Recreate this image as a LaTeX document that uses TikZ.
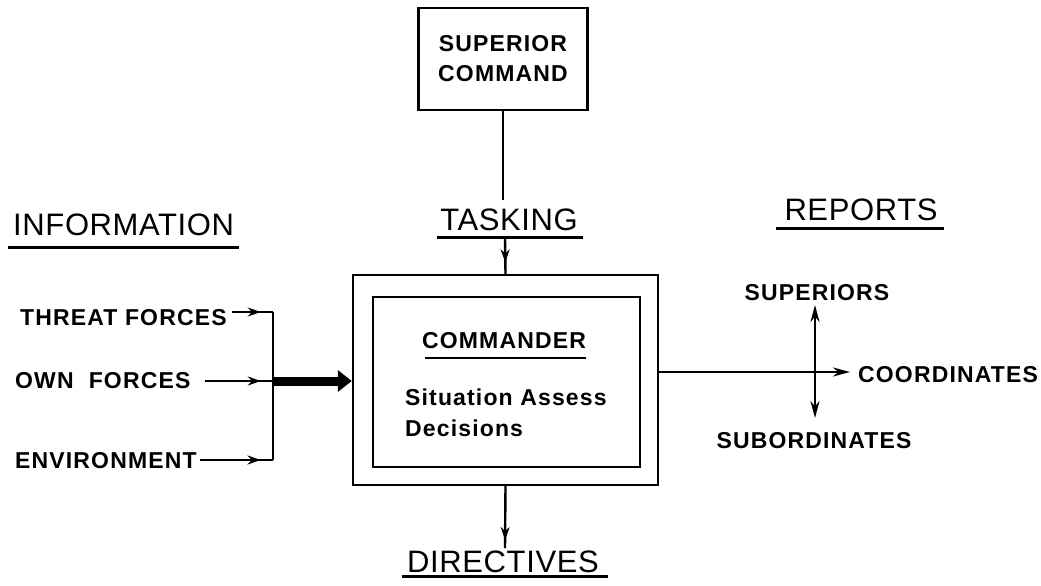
\documentclass[tikz,border=0pt]{standalone}
\usepackage{fontspec}
\setmainfont{Liberation Sans}
\newfontfamily\lblfont[LetterSpace=5]{Liberation Sans}
\newfontfamily\hdrfont[LetterSpace=2]{Liberation Sans}
\usetikzlibrary{arrows.meta,decorations.markings}
\begin{document}
\begin{tikzpicture}[x=1pt,y=-1pt,
  box/.style={draw,line width=2.4pt,inner sep=0pt},
  lbl/.style={inner sep=0pt,font=\lblfont\fontsize{23}{30}\selectfont\bfseries},
  hdr/.style={inner sep=0pt,font=\hdrfont\fontsize{31}{36}\selectfont},
  ln/.style={line width=2.4pt},
  uline/.style={line width=3pt},
  midarrow/.style={postaction={decorate},decoration={markings,mark=at position #1 with {\arrow{Stealth[length=13pt,width=9pt]}}}},
  tipend/.style={-{Stealth[length=17pt,width=9pt]}},
  tipboth/.style={{Stealth[length=17pt,width=9pt]}-{Stealth[length=17pt,width=9pt]}}
]
\useasboundingbox (0,0) rectangle (1041,586);

% boxes
\node[box, minimum width=169pt, minimum height=102pt, align=center, lbl] (sup) at (503,59) {SUPERIOR\\COMMAND};
\node[box, minimum width=305pt, minimum height=210pt] (outer) at (505.5,380) {};
\node[box, minimum width=267pt, minimum height=170pt] (inner) at (506.5,382) {};

% inside texts
\node[lbl, anchor=base] (cmd) at (504,348) {COMMANDER};
\draw[ln] ([xshift=3pt,yshift=-10pt]cmd.base west) -- ([xshift=0pt,yshift=-10pt]cmd.base east);
\node[lbl, anchor=base west] (sit) at (405,405) {Situation Assess};
\node[lbl, anchor=base west] (dec) at (405,436) {Decisions};

% headers
\node[hdr, anchor=base west] (info) at (13,235) {INFORMATION};
\draw[uline] ([xshift=-5pt,yshift=-12pt]info.base west) -- ([xshift=5pt,yshift=-12pt]info.base east);
\node[hdr, anchor=base] (task) at (509,230) {TASKING};
\draw[uline] ([xshift=-3pt,yshift=-7pt]task.base west) -- ([xshift=5pt,yshift=-7pt]task.base east);
\node[hdr, anchor=base] (rep) at (861,220) {REPORTS};
\draw[uline] ([xshift=-8pt,yshift=-8pt]rep.base west) -- ([xshift=6pt,yshift=-8pt]rep.base east);
\node[hdr, anchor=base] (dir) at (503,572) {DIRECTIVES};
\draw[uline] ([xshift=-5pt,yshift=-4pt]dir.base west) -- ([xshift=9pt,yshift=-4pt]dir.base east);

% left labels
\node[lbl, anchor=base west] (threat) at (20,325) {THREAT FORCES};
\node[lbl, anchor=base west] (own) at (15,388) {OWN \ FORCES};
\node[lbl, anchor=base west] (env) at (15,468) {ENVIRONMENT};

% right labels
\node[lbl, anchor=base] (supers) at (817,300) {SUPERIORS};
\node[lbl, anchor=base] (subs) at (814,448) {SUBORDINATES};
\node[lbl, anchor=base west] (coord) at (858,382) {COORDINATES};

% coordinates
\coordinate (tt) at (503,200);
\coordinate (tu) at (505,238);
\coordinate (dd) at (505,548);
\coordinate (tf) at (232,312);
\coordinate (of) at (205,381);
\coordinate (ef) at (200,460);
\coordinate (jT) at (273,312);
\coordinate (jO) at (273,381);
\coordinate (jE) at (273,460);
\coordinate (rc) at (850,372);
\coordinate (vt) at (815,305);
\coordinate (vb) at (815,418);

% connectors
\draw[ln] (sup.south) -- (tt);
\draw[ln, midarrow=0.68] (tu) -- (outer.north);
\draw[ln, midarrow=0.87] (outer.south) -- (dd);

\draw[ln, midarrow=0.7] (tf) -- (jT);
\draw[ln, midarrow=0.82] (of) -- (jO);
\draw[ln, midarrow=0.83] (ef) -- (jE);
\draw[ln] (jT) -- (jE);
\draw[line width=9pt, -{Triangle[length=14pt,width=21pt]}] (jO) -- (outer.west |- jO);

\draw[ln, tipend] (outer.east |- rc) -- (rc);
\draw[ln, tipboth] (vt) -- (vb);
\end{tikzpicture}
\end{document}
